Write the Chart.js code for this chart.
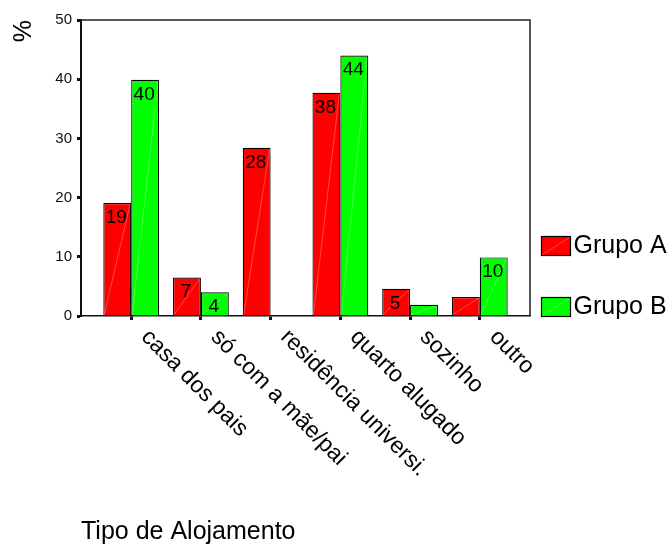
<!DOCTYPE html>
<html><head><meta charset="utf-8">
<script src="https://cdn.jsdelivr.net/npm/chart.js@4/dist/chart.umd.min.js"></script>
<style>html,body{margin:0;padding:0;background:#fff}canvas{display:block}</style>
</head><body>
<canvas id="c" width="669" height="547"></canvas>
<script>
const categories = ["casa dos pais", "só com a mãe/pai", "residência universi.", "quarto alugado", "sozinho", "outro"];
const grupoA = [19.1, 6.5, 28.4, 37.7, 4.6, 3.2];
const grupoB = [39.9, 4.0, 0, 44.0, 1.9, 9.9];
const seriesNames = ["Grupo A", "Grupo B"];
const seriesColors = ["#ff0000", "#00ff00"];
const yTicks = [0, 10, 20, 30, 40, 50];
const xTitle = "Tipo de Alojamento";
const yTitle = "%";

const FONT = "'Liberation Sans', Arial, sans-serif";
const AXIS = "#111";

function diag(ctx, l, t, r, b) {
  ctx.save();
  ctx.strokeStyle = "rgba(255,255,255,0.35)";
  ctx.lineWidth = 0.8;
  ctx.beginPath();
  ctx.moveTo(l + 1, b - 1);
  ctx.lineTo(r - 1, t + 1);
  ctx.stroke();
  ctx.restore();
}

const custom = {
  id: "custom",
  afterDatasetsDraw(chart) {
    const ctx = chart.ctx;
    chart.data.datasets.forEach((ds, di) => {
      const meta = chart.getDatasetMeta(di);
      meta.data.forEach((bar, i) => {
        const v = ds.data[i].y;
        const p = bar.getProps(["x", "y", "base", "width"], true);
        const l = p.x - p.width / 2, r = p.x + p.width / 2;
        if (p.base - p.y > 2) diag(ctx, l, p.y, r, p.base);
        if (Math.round(v) >= 4) {
          ctx.save();
          ctx.fillStyle = "#000";
          ctx.font = "19px " + FONT;
          ctx.textAlign = "center";
          ctx.textBaseline = "top";
          ctx.fillText(String(Math.round(v)), p.x - 1, p.y + 5);
          ctx.restore();
        }
      });
    });
  },
  afterDraw(chart) {
    const ctx = chart.ctx;
    const a = chart.chartArea;
    ctx.save();
    ctx.strokeStyle = "#222";
    ctx.lineWidth = 1.5;
    ctx.beginPath();
    ctx.moveTo(a.left, a.top);
    ctx.lineTo(a.right, a.top);
    ctx.lineTo(a.right, a.bottom);
    ctx.stroke();
    ctx.restore();
    const xs = chart.scales.x;
    ctx.save();
    ctx.fillStyle = "#000";
    ctx.font = "23px " + FONT;
    ctx.textAlign = "left";
    ctx.textBaseline = "alphabetic";
    categories.forEach((c, i) => {
      const px = xs.getPixelForValue(i);
      ctx.save();
      ctx.translate(px + 9, a.bottom + 22);
      ctx.rotate(Math.PI / 4);
      ctx.fillText(c, 0, 0);
      ctx.restore();
    });
    ctx.restore();
    const lx = a.right + 11.5;
    const ly = [236.5, 297.5];
    chart.data.datasets.forEach((ds, di) => {
      const y = ly[di];
      ctx.save();
      ctx.fillStyle = ds.backgroundColor;
      ctx.fillRect(lx, y, 29, 19);
      diag(ctx, lx, y, lx + 29, y + 19);
      ctx.strokeStyle = "#000";
      ctx.lineWidth = 1.2;
      ctx.strokeRect(lx, y, 29, 19);
      ctx.fillStyle = "#000";
      ctx.font = "25px " + FONT;
      ctx.textAlign = "left";
      ctx.textBaseline = "middle";
      ctx.fillText(ds.label, lx + 32, y + 10);
      ctx.restore();
    });
  }
};

const ds = [grupoA, grupoB].map((vals, k) => ({
  label: seriesNames[k],
  data: categories.map((c, i) => ({ x: i, y: vals[i] })),
  backgroundColor: seriesColors[k],
  borderColor: "#000",
  borderWidth: 1.2,
  categoryPercentage: 0.8,
  barPercentage: 1.0
}));

new Chart(document.getElementById("c"), {
  type: "bar",
  data: { datasets: ds },
  options: {
    responsive: false,
    animation: false,
    layout: { padding: { left: 0, top: 20, right: 139, bottom: 0 } },
    plugins: { legend: { display: false }, tooltip: { enabled: false } },
    scales: {
      x: {
        type: "linear",
        min: -0.72,
        max: 5.72,
        offset: false,
        afterBuildTicks(s) { s.ticks = categories.map((c, i) => ({ value: i })); },
        ticks: { display: false },
        grid: { offset: false, drawOnChartArea: false, drawTicks: true, tickLength: 4, tickWidth: 3, color: AXIS },
        border: { display: true, color: AXIS, width: 1.5 },
        title: { display: true, text: xTitle, align: "start", color: "#000", font: { family: FONT, size: 25 }, padding: { top: 0, bottom: 0 } },
        afterFit(s) { s.height = 231; }
      },
      y: {
        min: 0,
        max: 50,
        afterBuildTicks(s) { s.ticks = yTicks.map(v => ({ value: v })); },
        ticks: { color: AXIS, padding: 5, font: { family: FONT, size: 15 } },
        grid: { drawOnChartArea: false, drawTicks: true, tickLength: 4, tickWidth: 3, color: AXIS },
        border: { display: true, color: AXIS, width: 2 },
        title: { display: true, text: yTitle, align: "end", color: "#000", font: { family: FONT, size: 25 }, padding: { top: 9, bottom: 0 } },
        afterFit(s) { s.width = 81; }
      }
    }
  },
  plugins: [custom]
});
</script>
</body></html>
